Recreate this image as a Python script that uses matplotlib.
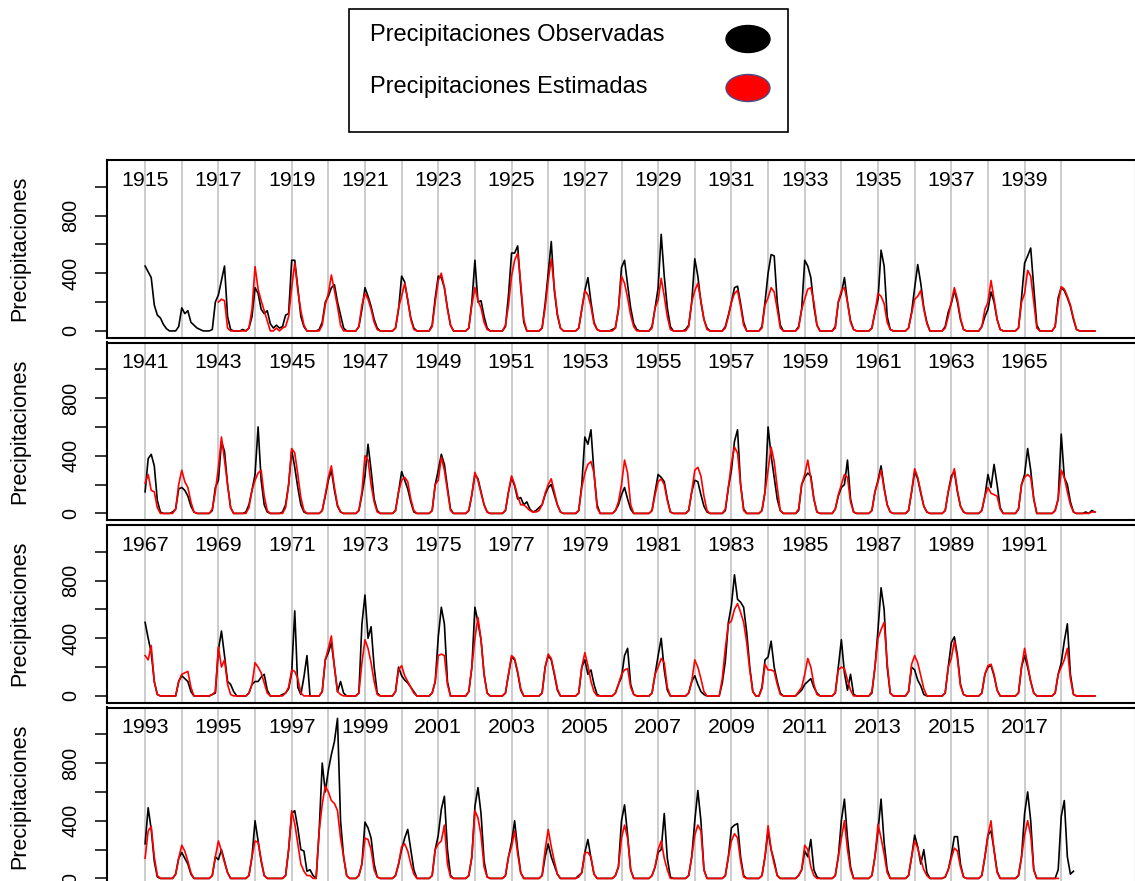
import numpy as np
import matplotlib
matplotlib.use("Agg")
import matplotlib.pyplot as plt
from matplotlib.patches import Rectangle, Ellipse

plt.rcParams['font.family'] = ['Liberation Sans', 'DejaVu Sans']

N = None
# ---------------- Panel 1: 1915-1940 (monthly, Jan..Dec) ----------------
obs_1915 = [
    [450, 410, 370, 180, 110, 90, 45, 15, 0, 0, 0, 30],
    [160, 120, 140, 60, 40, 20, 10, 0, 0, 0, 10, 200],
    [250, 350, 450, 100, 10, 0, 0, 0, 10, 0, 20, 100],
    [300, 260, 150, 120, 140, 50, 20, 40, 20, 30, 110, 120],
    [490, 490, 300, 100, 30, 0, 0, 0, 0, 10, 60, 200],
    [240, 300, 320, 200, 110, 20, 0, 0, 0, 0, 30, 150],
    [300, 240, 170, 80, 20, 0, 0, 0, 0, 0, 20, 150],
    [380, 340, 210, 90, 20, 0, 0, 0, 0, 0, 40, 230],
    [380, 370, 300, 160, 40, 0, 0, 0, 0, 0, 20, 200],
    [490, 200, 210, 100, 20, 0, 0, 0, 0, 0, 30, 250],
    [540, 540, 590, 300, 60, 0, 0, 0, 0, 0, 20, 190],
    [400, 620, 280, 110, 20, 0, 0, 0, 0, 0, 20, 150],
    [280, 370, 200, 60, 10, 0, 0, 0, 0, 10, 20, 150],
    [440, 490, 320, 160, 50, 10, 0, 0, 0, 0, 30, 160],
    [300, 670, 380, 160, 30, 0, 0, 0, 0, 10, 40, 200],
    [500, 380, 200, 80, 20, 0, 0, 0, 0, 0, 30, 110],
    [200, 300, 310, 190, 60, 0, 0, 0, 0, 0, 30, 200],
    [400, 530, 520, 200, 40, 0, 0, 0, 0, 0, 30, 150],
    [490, 450, 370, 170, 40, 0, 0, 0, 0, 0, 30, 200],
    [260, 370, 200, 70, 10, 0, 0, 0, 0, 0, 20, 130],
    [220, 560, 450, 100, 10, 0, 0, 0, 0, 0, 20, 130],
    [300, 460, 330, 160, 60, 0, 0, 0, 0, 0, 30, 130],
    [190, 280, 200, 80, 10, 0, 0, 0, 0, 0, 30, 100],
    [150, 270, 200, 80, 10, 0, 0, 0, 0, 0, 20, 230],
    [470, 520, 575, 300, 40, 0, 0, 0, 0, 0, 30, 230],
    [300, 280, 230, 170, 80, 10, 0, 0, 0, 0, 0, 0],
]
est_1915 = [
    [N] * 12,
    [N] * 12,
    [200, 220, 210, 20, 0, 0, 0, 0, 0, 0, 20, 150],
    [446, 290, 210, 140, 70, 0, 0, 20, 0, 20, 30, 100],
    [300, 470, 280, 140, 40, 0, 0, 0, 0, 0, 40, 180],
    [260, 388, 280, 170, 40, 0, 0, 0, 0, 0, 30, 180],
    [260, 220, 150, 60, 10, 0, 0, 0, 0, 0, 20, 160],
    [240, 330, 220, 80, 10, 0, 0, 0, 0, 0, 30, 200],
    [350, 400, 300, 150, 40, 0, 0, 0, 0, 0, 20, 180],
    [300, 210, 160, 60, 10, 0, 0, 0, 0, 0, 40, 180],
    [380, 490, 540, 330, 80, 0, 0, 0, 0, 0, 20, 160],
    [350, 500, 300, 120, 20, 0, 0, 0, 0, 0, 20, 150],
    [280, 250, 170, 50, 10, 0, 0, 0, 0, 0, 20, 150],
    [380, 330, 230, 110, 30, 0, 0, 0, 0, 0, 20, 160],
    [214, 365, 240, 100, 10, 0, 0, 0, 0, 0, 30, 200],
    [280, 330, 210, 80, 10, 0, 0, 0, 0, 0, 20, 100],
    [200, 260, 280, 170, 40, 0, 0, 0, 0, 0, 20, 180],
    [230, 300, 270, 150, 20, 0, 0, 0, 0, 0, 20, 150],
    [220, 290, 300, 200, 40, 0, 0, 0, 0, 0, 20, 200],
    [280, 300, 200, 60, 10, 0, 0, 0, 0, 0, 20, 130],
    [260, 240, 190, 60, 10, 0, 0, 0, 0, 0, 20, 120],
    [220, 240, 280, 150, 50, 0, 0, 0, 0, 0, 20, 100],
    [200, 300, 220, 90, 10, 0, 0, 0, 0, 0, 30, 150],
    [200, 350, 220, 80, 10, 0, 0, 0, 0, 0, 20, 200],
    [260, 420, 380, 200, 20, 0, 0, 0, 0, 0, 30, 200],
    [307, 290, 240, 180, 90, 10, 0, 0, 0, 0, 0, 0],
]
# ---------------- Panel 2: 1941-1966 ----------------
obs_1941 = [
    [150, 380, 410, 330, 90, 10, 0, 0, 0, 10, 30, 170],
    [180, 160, 120, 50, 10, 0, 0, 0, 0, 0, 20, 180],
    [230, 500, 430, 200, 40, 0, 0, 0, 0, 10, 60, 160],
    [270, 600, 230, 60, 10, 0, 0, 0, 0, 10, 60, 200],
    [440, 320, 180, 60, 10, 0, 0, 0, 0, 0, 20, 120],
    [230, 300, 160, 50, 10, 0, 0, 0, 0, 0, 20, 130],
    [260, 480, 300, 100, 20, 0, 0, 0, 0, 0, 20, 150],
    [290, 230, 170, 80, 10, 0, 0, 0, 0, 0, 20, 200],
    [300, 410, 340, 180, 30, 0, 0, 0, 0, 0, 20, 130],
    [270, 240, 150, 60, 10, 0, 0, 0, 0, 0, 20, 150],
    [250, 190, 100, 110, 60, 80, 30, 10, 20, 40, 60, 130],
    [180, 200, 130, 60, 10, 0, 0, 0, 0, 0, 20, 200],
    [530, 480, 580, 280, 60, 0, 0, 0, 0, 0, 20, 60],
    [130, 180, 100, 30, 0, 0, 0, 0, 0, 0, 20, 150],
    [270, 250, 220, 100, 10, 0, 0, 0, 0, 0, 20, 150],
    [230, 220, 130, 50, 10, 0, 0, 0, 0, 0, 20, 180],
    [300, 500, 580, 200, 30, 0, 0, 0, 0, 0, 20, 150],
    [600, 400, 250, 100, 20, 0, 0, 0, 0, 0, 20, 200],
    [250, 280, 260, 100, 10, 0, 0, 0, 0, 0, 30, 120],
    [180, 200, 370, 100, 10, 0, 0, 0, 0, 0, 20, 150],
    [230, 330, 180, 60, 10, 0, 0, 0, 0, 0, 20, 150],
    [290, 240, 140, 50, 10, 0, 0, 0, 0, 0, 20, 150],
    [260, 290, 150, 50, 10, 0, 0, 0, 0, 0, 20, 120],
    [270, 180, 340, 200, 40, 0, 0, 0, 0, 0, 30, 200],
    [270, 450, 300, 100, 0, 0, 0, 0, 0, 0, 20, 100],
    [550, 250, 200, 80, 10, 0, 0, 0, 10, 0, 20, 10],
]
est_1941 = [
    [210, 270, 160, 150, 40, 0, 0, 0, 0, 0, 30, 200],
    [300, 220, 180, 80, 10, 0, 0, 0, 0, 0, 30, 150],
    [320, 530, 370, 200, 40, 0, 0, 0, 0, 0, 40, 160],
    [230, 280, 300, 120, 20, 0, 0, 0, 0, 0, 40, 200],
    [450, 420, 270, 110, 20, 0, 0, 0, 0, 0, 20, 130],
    [250, 330, 180, 60, 10, 0, 0, 0, 0, 0, 20, 150],
    [400, 370, 200, 80, 10, 0, 0, 0, 0, 0, 20, 150],
    [230, 250, 220, 100, 20, 0, 0, 0, 0, 0, 20, 200],
    [230, 390, 300, 160, 20, 0, 0, 0, 0, 0, 20, 130],
    [285, 230, 140, 60, 10, 0, 0, 0, 0, 0, 20, 150],
    [260, 200, 120, 60, 60, 40, 20, 10, 10, 20, 60, 140],
    [200, 240, 150, 60, 10, 0, 0, 0, 0, 0, 20, 180],
    [280, 340, 360, 280, 40, 0, 0, 0, 0, 0, 20, 80],
    [200, 370, 280, 60, 0, 0, 0, 0, 0, 0, 20, 130],
    [220, 240, 200, 90, 10, 0, 0, 0, 0, 0, 20, 150],
    [300, 320, 260, 120, 20, 0, 0, 0, 0, 0, 30, 180],
    [350, 460, 420, 200, 20, 0, 0, 0, 0, 0, 20, 150],
    [300, 460, 360, 180, 20, 0, 0, 0, 0, 0, 30, 200],
    [270, 370, 240, 100, 10, 0, 0, 0, 0, 0, 30, 130],
    [200, 270, 250, 80, 10, 0, 0, 0, 0, 0, 20, 150],
    [220, 300, 170, 60, 10, 0, 0, 0, 0, 0, 20, 150],
    [310, 250, 150, 50, 10, 0, 0, 0, 0, 0, 20, 150],
    [240, 310, 160, 50, 10, 0, 0, 0, 0, 0, 20, 120],
    [180, 140, 130, 120, 30, 0, 0, 0, 0, 0, 30, 200],
    [250, 270, 250, 100, 0, 0, 0, 0, 0, 0, 20, 100],
    [300, 250, 150, 60, 10, 0, 0, 0, 0, 0, 10, 10],
]
# ---------------- Panel 3: 1967-1992 ----------------
obs_1967 = [
    [510, 400, 300, 100, 10, 0, 0, 0, 0, 0, 0, 100],
    [140, 120, 100, 30, 0, 0, 0, 0, 0, 0, 10, 20],
    [320, 450, 280, 100, 80, 30, 0, 0, 0, 0, 20, 80],
    [100, 100, 130, 150, 40, 0, 0, 0, 0, 10, 20, 50],
    [160, 590, 60, 10, 130, 280, 0, 0, 0, 0, 30, 250],
    [300, 370, 200, 30, 100, 20, 0, 0, 0, 0, 20, 500],
    [700, 400, 480, 200, 20, 0, 0, 0, 0, 0, 30, 200],
    [140, 110, 90, 60, 30, 0, 0, 0, 0, 0, 20, 100],
    [410, 615, 500, 100, 0, 0, 0, 0, 0, 0, 30, 200],
    [615, 510, 390, 150, 20, 0, 0, 0, 0, 0, 20, 150],
    [270, 250, 160, 40, 0, 0, 0, 0, 0, 0, 20, 200],
    [280, 250, 150, 40, 0, 0, 0, 0, 0, 0, 20, 200],
    [250, 150, 180, 80, 10, 0, 0, 0, 0, 0, 20, 80],
    [130, 280, 330, 80, 10, 0, 0, 0, 0, 0, 20, 150],
    [280, 400, 180, 40, 0, 0, 0, 0, 0, 0, 20, 100],
    [140, 80, 30, 10, 0, 0, 0, 0, 0, 90, 240, 510],
    [630, 840, 670, 650, 615, 440, 200, 30, 0, 0, 60, 250],
    [270, 380, 200, 100, 20, 0, 0, 0, 0, 0, 20, 40],
    [80, 100, 120, 60, 20, 0, 0, 0, 0, 0, 20, 200],
    [390, 160, 40, 150, 10, 0, 0, 0, 0, 0, 20, 200],
    [460, 750, 600, 200, 20, 0, 0, 0, 0, 0, 30, 200],
    [180, 110, 70, 10, 0, 0, 0, 0, 0, 0, 20, 200],
    [370, 410, 280, 80, 10, 0, 0, 0, 0, 0, 20, 150],
    [200, 210, 140, 40, 0, 0, 0, 0, 0, 0, 20, 200],
    [280, 200, 100, 20, 0, 0, 0, 0, 0, 0, 20, 150],
    [230, 380, 500, 150, 10, 0, 0, 0, 0, 0, 0, 0],
]
est_1967 = [
    [280, 250, 350, 100, 10, 0, 0, 0, 0, 0, 0, 100],
    [150, 160, 170, 60, 0, 0, 0, 0, 0, 0, 10, 30],
    [340, 200, 250, 80, 10, 0, 0, 0, 0, 0, 20, 80],
    [230, 200, 160, 90, 20, 0, 0, 0, 0, 0, 20, 60],
    [180, 170, 120, 20, 0, 0, 0, 0, 0, 0, 30, 250],
    [330, 416, 200, 30, 10, 0, 0, 0, 0, 0, 20, 230],
    [390, 330, 230, 100, 10, 0, 0, 0, 0, 0, 30, 180],
    [210, 140, 100, 60, 20, 0, 0, 0, 0, 0, 20, 100],
    [280, 290, 280, 80, 0, 0, 0, 0, 0, 0, 30, 200],
    [400, 545, 390, 150, 20, 0, 0, 0, 0, 0, 20, 150],
    [280, 260, 170, 50, 0, 0, 0, 0, 0, 0, 20, 200],
    [290, 260, 160, 50, 0, 0, 0, 0, 0, 0, 20, 200],
    [300, 210, 100, 30, 0, 0, 0, 0, 0, 0, 20, 80],
    [150, 180, 190, 60, 10, 0, 0, 0, 0, 0, 20, 150],
    [200, 260, 230, 60, 0, 0, 0, 0, 0, 0, 20, 100],
    [250, 200, 120, 30, 0, 0, 0, 0, 0, 120, 330, 500],
    [520, 600, 640, 580, 510, 370, 180, 30, 0, 0, 50, 220],
    [180, 180, 170, 80, 10, 0, 0, 0, 0, 0, 30, 60],
    [150, 260, 200, 80, 10, 0, 0, 0, 0, 0, 20, 180],
    [200, 190, 110, 40, 0, 0, 0, 0, 0, 0, 30, 200],
    [400, 460, 510, 230, 20, 0, 0, 0, 0, 0, 30, 220],
    [280, 230, 140, 50, 0, 0, 0, 0, 0, 0, 20, 200],
    [260, 380, 260, 70, 10, 0, 0, 0, 0, 0, 20, 150],
    [210, 220, 150, 40, 0, 0, 0, 0, 0, 0, 20, 200],
    [330, 220, 100, 20, 0, 0, 0, 0, 0, 0, 20, 150],
    [200, 250, 330, 120, 10, 0, 0, 0, 0, 0, 0, 0],
]
# ---------------- Panel 4: 1993-2018 ----------------
obs_1993 = [
    [240, 490, 340, 120, 10, 0, 0, 0, 0, 0, 30, 140],
    [180, 140, 100, 30, 0, 0, 0, 0, 0, 0, 20, 150],
    [130, 200, 120, 40, 0, 0, 0, 0, 0, 0, 20, 150],
    [400, 260, 120, 20, 0, 0, 0, 0, 0, 0, 20, 200],
    [450, 470, 350, 200, 190, 50, 60, 20, 0, 330, 800, 600],
    [750, 860, 950, 1110, 400, 150, 20, 0, 0, 0, 20, 100],
    [390, 350, 280, 100, 10, 0, 0, 0, 0, 0, 20, 100],
    [200, 280, 340, 200, 60, 0, 0, 0, 0, 0, 20, 200],
    [300, 480, 570, 200, 20, 0, 0, 0, 0, 0, 20, 150],
    [500, 630, 450, 120, 10, 0, 0, 0, 0, 0, 20, 150],
    [250, 400, 200, 40, 0, 0, 0, 0, 0, 0, 20, 150],
    [240, 150, 90, 30, 0, 0, 0, 0, 0, 0, 20, 40],
    [180, 270, 140, 30, 0, 0, 0, 0, 0, 0, 20, 80],
    [400, 510, 300, 60, 0, 0, 0, 0, 0, 0, 20, 80],
    [180, 200, 450, 140, 10, 0, 0, 0, 0, 0, 20, 150],
    [400, 610, 400, 60, 0, 0, 0, 0, 0, 0, 20, 150],
    [350, 370, 380, 150, 20, 0, 0, 0, 0, 0, 20, 150],
    [330, 200, 120, 20, 0, 0, 0, 0, 0, 0, 20, 60],
    [190, 150, 270, 60, 10, 0, 0, 0, 0, 0, 20, 150],
    [400, 550, 280, 80, 0, 0, 0, 0, 0, 0, 20, 150],
    [330, 550, 250, 60, 0, 0, 0, 0, 0, 0, 20, 150],
    [300, 220, 100, 200, 40, 0, 0, 0, 0, 0, 10, 60],
    [160, 290, 290, 100, 10, 0, 0, 0, 0, 0, 20, 150],
    [300, 330, 200, 50, 0, 0, 0, 0, 0, 0, 20, 150],
    [450, 600, 400, 60, 0, 0, 0, 0, 0, 0, 0, 60],
    [430, 540, 150, 30, 50, N, N, N, N, N, N, N],
]
est_1993 = [
    [140, 330, 360, 150, 20, 0, 0, 0, 0, 0, 30, 140],
    [230, 190, 120, 40, 0, 0, 0, 0, 0, 0, 20, 150],
    [260, 190, 110, 40, 0, 0, 0, 0, 0, 0, 20, 150],
    [260, 250, 130, 20, 0, 0, 0, 0, 0, 0, 20, 200],
    [470, 380, 240, 100, 50, 20, 20, 0, 0, 330, 515, 640],
    [600, 540, 520, 470, 280, 150, 20, 0, 0, 0, 20, 100],
    [280, 270, 200, 60, 10, 0, 0, 0, 0, 0, 20, 100],
    [220, 240, 190, 100, 30, 0, 0, 0, 0, 0, 20, 200],
    [240, 260, 370, 100, 10, 0, 0, 0, 0, 0, 20, 150],
    [470, 420, 300, 80, 10, 0, 0, 0, 0, 0, 20, 150],
    [220, 330, 170, 40, 0, 0, 0, 0, 0, 0, 20, 200],
    [340, 220, 120, 30, 0, 0, 0, 0, 0, 0, 10, 40],
    [180, 180, 150, 30, 0, 0, 0, 0, 0, 0, 20, 80],
    [280, 370, 280, 60, 0, 0, 0, 0, 0, 0, 20, 80],
    [200, 260, 140, 60, 0, 0, 0, 0, 0, 0, 20, 150],
    [300, 370, 330, 60, 0, 0, 0, 0, 0, 0, 20, 150],
    [260, 310, 280, 120, 10, 0, 0, 0, 0, 0, 20, 150],
    [365, 200, 100, 20, 0, 0, 0, 0, 0, 0, 20, 60],
    [230, 200, 80, 20, 0, 0, 0, 0, 0, 0, 20, 150],
    [280, 400, 200, 60, 0, 0, 0, 0, 0, 0, 20, 150],
    [376, 280, 170, 40, 0, 0, 0, 0, 0, 0, 20, 150],
    [260, 210, 130, 60, 20, 0, 0, 0, 0, 0, 10, 60],
    [140, 210, 190, 80, 10, 0, 0, 0, 0, 0, 20, 150],
    [300, 400, 190, 40, 0, 0, 0, 0, 0, 0, 20, 150],
    [300, 400, 300, 60, 0, 0, 0, 0, 0, 0, 0, 0],
    [N] * 12,
]

panel_starts = [1915, 1941, 1967, 1993]
panel_obs = [obs_1915, obs_1941, obs_1967, obs_1993]
panel_est = [est_1915, est_1941, est_1967, est_1993]
y_ticks = [0, 200, 400, 600, 800, 1000]
y_ticklabels = ["0", "", "400", "", "800", ""]
legend_labels = ["Precipitaciones Observadas", "Precipitaciones Estimadas"]
y_label = "Precipitaciones"


def flatten(rows):
    vals = [np.nan if v is None else v for r in rows for v in r]
    return np.array(vals, dtype=float)


W, H = 1135, 881
fig = plt.figure(figsize=(W / 100, H / 100), dpi=100)

left_px, right_px = 107, 1136
tops_px = [160, 342.5, 525, 707.5]
height_px = 177.5

for start, obs_rows, est_rows, top in zip(panel_starts, panel_obs, panel_est, tops_px):
    ax = fig.add_axes([left_px / W, (H - top - height_px) / H,
                       (right_px - left_px) / W, height_px / H])
    obs = flatten(obs_rows)
    est = flatten(est_rows)
    x = start + np.arange(len(obs)) / 12.0
    years = np.arange(start, start + 26)
    for yr in years:
        ax.axvline(yr, color='#BEBEBE', lw=1.1, zorder=1)
    ax.plot(x, obs, color='black', lw=1.2, zorder=2)
    ax.plot(x, est, color='red', lw=1.2, zorder=3)
    ax.set_xlim(start - 1.04, start + 27.04)
    ax.set_ylim(-45.6, 1185.6)
    ax.set_xticks([])
    ax.set_yticks(y_ticks)
    ax.set_yticklabels([])
    ax.tick_params(axis='y', length=8.6, width=1.1, direction='out')
    for s in ax.spines.values():
        s.set_linewidth(1.5)
    ytr = ax.get_yaxis_transform()
    for t, lab in zip(y_ticks, y_ticklabels):
        if lab:
            ax.text(-0.035, t, lab, transform=ytr, rotation=90, ha='center',
                    va='center', fontsize=14.3, clip_on=False)
    ax.text(-0.0845, 0.5, y_label, transform=ax.transAxes, rotation=90,
            ha='center', va='center', fontsize=15.5)
    xtr = ax.get_xaxis_transform()
    for yr in years[::2]:
        ax.text(yr, 0.854, str(yr), transform=xtr, ha='center', va='baseline',
                fontsize=15.4)

# legend box in pixel coordinates
lax = fig.add_axes([0, 0, 1, 1], facecolor='none')
lax.set_xlim(0, W)
lax.set_ylim(H, 0)
lax.axis('off')
lax.add_patch(Rectangle((349, 9), 439, 123, fill=False, edgecolor='black', lw=1.2))
lax.text(370, 35, legend_labels[0], ha='left', va='center', fontsize=17)
lax.text(370, 87, legend_labels[1], ha='left', va='center', fontsize=17)
lax.add_patch(Ellipse((748, 39), 44, 27, facecolor='black', edgecolor='black', lw=1))
lax.add_patch(Ellipse((748, 88), 44, 27, facecolor='red', edgecolor='#4a4a8a', lw=1))

fig.savefig("out.png", dpi=100)
